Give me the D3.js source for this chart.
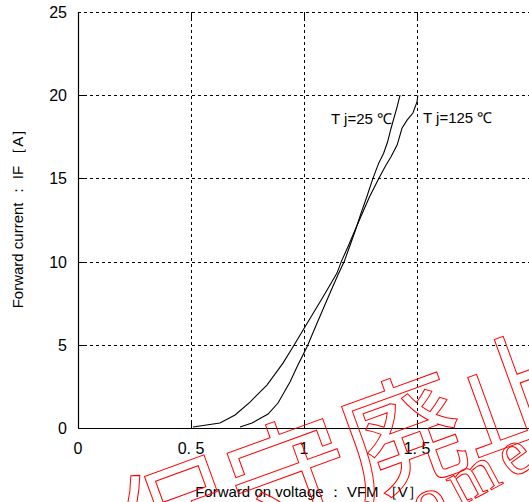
<!DOCTYPE html>
<html>
<head>
<meta charset="utf-8">
<script src="https://cdn.jsdelivr.net/npm/d3@7"></script>
<style>
  html, body { margin: 0; padding: 0; background: #fff; }
  svg { display: block; }
</style>
</head>
<body>
<svg id="chart" width="529" height="502"></svg>
<script>
// ---- data ----
const xTicks = [0, 0.5, 1, 1.5, 2];
const xTickLabels = ["0", "0. 5", "1", "1. 5", ""];   // "2" lies beyond the visible edge
const yTicks = [0, 5, 10, 15, 20, 25];
const yTickLabels = ["0", "5", "10", "15", "20", "25"];

const seriesNames = ["T j=25 \u2103", "T j=125 \u2103"];
// Forward voltage [V]
const vf25  = [0.717, 0.77, 0.841, 0.885, 0.938, 0.973, 1.013, 1.058, 1.115, 1.15, 1.178, 1.203, 1.228, 1.252, 1.278, 1.305, 1.33, 1.352, 1.37, 1.385, 1.412, 1.425];
// Forward current [A]
const if25  = [0.06, 0.3, 0.84, 1.5, 2.76, 3.79, 4.87, 6.31, 8.11, 9.2, 10.0, 10.95, 11.9, 12.9, 13.9, 15.0, 15.9, 16.5, 17.2, 18.0, 19.3, 20.0];
const vf125 = [0.509, 0.628, 0.695, 0.761, 0.836, 0.907, 0.951, 1.004, 1.084, 1.146, 1.165, 1.198, 1.226, 1.258, 1.29, 1.332, 1.363, 1.385, 1.412, 1.434, 1.456, 1.482, 1.5, 1.504];
const if125 = [0.06, 0.3, 0.78, 1.56, 2.58, 3.9, 4.87, 6.07, 7.87, 9.31, 10.0, 11.0, 11.9, 12.9, 13.9, 15.02, 15.8, 16.3, 17.0, 18.03, 18.5, 18.93, 19.6, 20.0];

const xTitle = "Forward on voltage \uFF1A VFM \uFF3BV\uFF3D";
const yTitle = "Forward current \uFF1A IF \uFF3BA\uFF3D";
const watermarkChars = ["\u4fdd", "\u5b88", "\u5ec3", "\u6b62"];
const watermarkLatin = ["o", "m", "e"];

// ---- layout ----
const svg = d3.select("#chart");
const x = d3.scaleLinear().domain([0, 2]).range([78, 530]);
const y = d3.scaleLinear().domain([0, 25]).range([428, 12]);
const narrow = "'Liberation Sans Narrow', 'Arial Narrow', 'Liberation Sans', Arial, sans-serif";
const sans = "'Liberation Sans', Arial, sans-serif";

// gridlines (dashed)
const grid = svg.append("g").attr("stroke", "#000").attr("stroke-width", 1).attr("stroke-dasharray", "3,3");
grid.selectAll(".vg").data(xTicks.filter(d => d > 0)).join("line")
  .attr("x1", d => Math.round(x(d)) + 0.5).attr("x2", d => Math.round(x(d)) + 0.5)
  .attr("y1", y(25)).attr("y2", y(0));
grid.selectAll(".hg").data(yTicks.filter(d => d > 0)).join("line")
  .attr("x1", x(0)).attr("x2", 529)
  .attr("y1", d => Math.round(y(d)) + 0.5).attr("y2", d => Math.round(y(d)) + 0.5);

// inner solid ticks
const ticks = svg.append("g").attr("stroke", "#000").attr("stroke-width", 1);
xTicks.filter(d => d > 0).forEach(d => {
  const px = Math.round(x(d)) + 0.5;
  ticks.append("line").attr("x1", px).attr("x2", px).attr("y1", y(25)).attr("y2", y(25) + 6);
  ticks.append("line").attr("x1", px).attr("x2", px).attr("y1", y(0)).attr("y2", y(0) - 6);
});
yTicks.filter(d => d > 0 && d < 25).forEach(d => {
  const py = Math.round(y(d)) + 0.5;
  ticks.append("line").attr("x1", x(0)).attr("x2", x(0) + 6).attr("y1", py).attr("y2", py);
});

// axes lines
svg.append("line").attr("x1", x(0) + 0.5).attr("x2", x(0) + 0.5).attr("y1", y(25)).attr("y2", y(0))
  .attr("stroke", "#000").attr("stroke-width", 1.2);
svg.append("line").attr("x1", x(0)).attr("x2", 529).attr("y1", y(0) + 0.5).attr("y2", y(0) + 0.5)
  .attr("stroke", "#000").attr("stroke-width", 1.2);

// tick labels
svg.append("g").selectAll("text").data(yTicks).join("text")
  .attr("x", 67).attr("y", d => y(d) + 6)
  .attr("text-anchor", "end").attr("font-family", narrow).attr("font-size", 16)
  .text((d, i) => yTickLabels[i]);
svg.append("g").selectAll("text").data(xTicks.filter((d, i) => xTickLabels[i] !== "")).join("text")
  .attr("x", d => x(d)).attr("y", 454)
  .attr("text-anchor", "middle").attr("font-family", narrow).attr("font-size", 16)
  .text((d, i) => xTickLabels[i]);

// axis titles
svg.append("text").attr("x", 309).attr("y", 497).attr("text-anchor", "middle")
  .attr("font-family", sans).attr("font-size", 15).text(xTitle);
svg.append("text").attr("transform", "translate(23,215) rotate(-90)").attr("text-anchor", "middle")
  .attr("font-family", sans).attr("font-size", 15).text(yTitle);

// curves
const line = d3.line().x(d => x(d[0])).y(d => y(d[1]));
const s25 = vf25.map((v, i) => [v, if25[i]]);
const s125 = vf125.map((v, i) => [v, if125[i]]);
[s25, s125].forEach(s => {
  svg.append("path").datum(s).attr("d", line)
    .attr("fill", "none").attr("stroke", "#000").attr("stroke-width", 1.1);
});

// series annotations
svg.append("text").attr("x", 331).attr("y", 124).attr("font-family", narrow).attr("font-size", 15)
  .text(seriesNames[0]);
svg.append("text").attr("x", 423).attr("y", 123).attr("font-family", narrow).attr("font-size", 15)
  .text(seriesNames[1]);

// watermark (outlined, red)
const wm = svg.append("g").attr("fill", "none").attr("stroke", "#ff0000").attr("stroke-width", 1);
const wmPos = [[173, 512], [287, 469], [399, 427], [511, 385]];
watermarkChars.forEach((c, i) => {
  wm.append("text")
    .attr("transform", `translate(${wmPos[i][0]},${wmPos[i][1]}) rotate(-20)`)
    .attr("text-anchor", "middle").attr("dominant-baseline", "central")
    .attr("font-family", "'Noto Sans CJK JP', sans-serif").attr("font-size", 122)
    .text(c);
});
const latPos = [[428, 500, -22], [471, 475, -28], [512, 453, -36]];
watermarkLatin.forEach((c, i) => {
  wm.append("text")
    .attr("transform", `translate(${latPos[i][0]},${latPos[i][1]}) rotate(${latPos[i][2]})`)
    .attr("text-anchor", "middle").attr("dominant-baseline", "central")
    .attr("font-family", "'Liberation Serif', 'DejaVu Serif', serif").attr("font-size", 66)
    .text(c);
});
</script>
</body>
</html>
